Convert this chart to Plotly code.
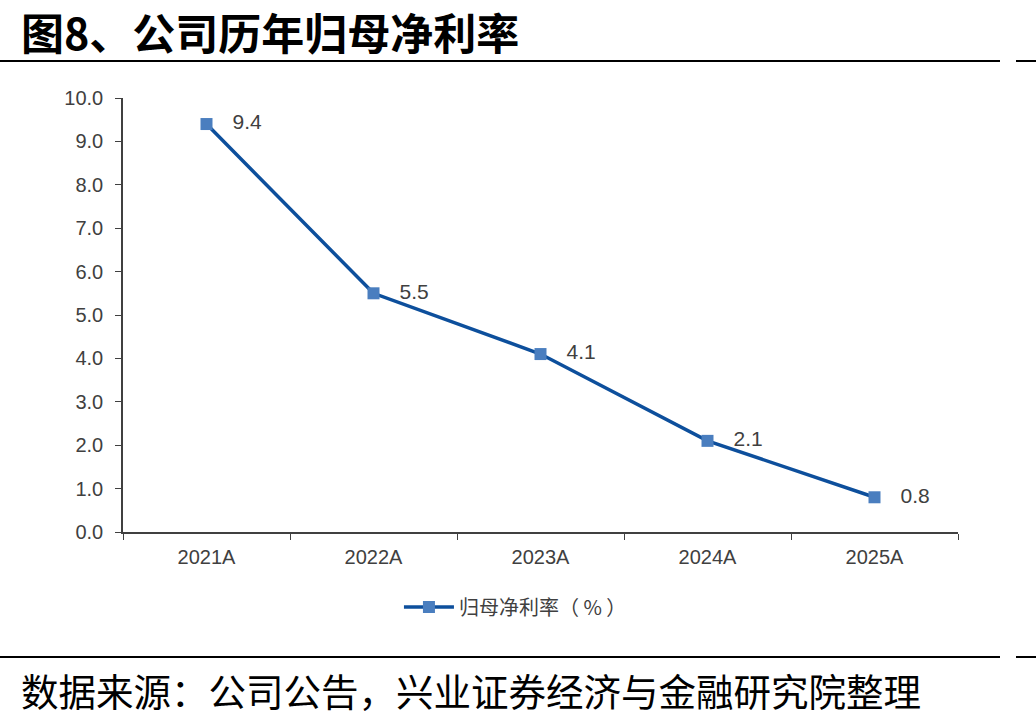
import plotly.graph_objects as go

categories = ["2021A", "2022A", "2023A", "2024A", "2025A"]
net_margin = [9.4, 5.5, 4.1, 2.1, 0.8]
series_name = "归母净利率（ % ）"
y_ticks = [0, 1, 2, 3, 4, 5, 6, 7, 8, 9, 10]
title_text = "图8、公司历年归母净利率"
source_text = "数据来源：公司公告，兴业证券经济与金融研究院整理"

W, H = 1036, 722
L, R, T, B = 123, 78, 98, 190
pw, ph = W - L - R, H - T - B

def px(x):
    return (x - L) / pw

def py(y):
    return (H - B - y) / ph

fig = go.Figure()
fig.add_trace(go.Scatter(
    x=categories, y=net_margin, mode="lines+markers+text",
    name=series_name,
    line=dict(color="#0d4f9c", width=3.5),
    marker=dict(symbol="square", size=12, color="#4a7ebf"),
    text=["   " + f"{v:.1f}" for v in net_margin],
    textposition="middle right",
    textfont=dict(family="Liberation Sans, Arial", size=21, color="#404040"),
    cliponaxis=False,
))

fig.update_layout(
    width=W, height=H,
    margin=dict(l=L, r=R, t=T, b=B),
    paper_bgcolor="white", plot_bgcolor="white",
    showlegend=True,
    legend=dict(orientation="h", x=0.47, xanchor="center", y=py(607), yanchor="middle",
                font=dict(family="Noto Sans CJK SC", size=20, color="#404040"),
                itemwidth=50),
    xaxis=dict(type="category", range=[-0.5, 4.5], showline=True, linecolor="#404040", linewidth=1.5,
               ticks="outside", tickson="boundaries", ticklen=6, tickcolor="#404040",
               ticklabelstandoff=6,
               tickfont=dict(family="Liberation Sans, Arial", size=20, color="#404040"),
               showgrid=False, zeroline=False),
    yaxis=dict(range=[0, 10], tickvals=y_ticks, ticktext=[f"{v:.1f}" for v in y_ticks],
               showline=True, linecolor="#404040", linewidth=1.5,
               ticks="outside", ticklen=6, tickcolor="#404040",
               ticklabelstandoff=8,
               tickfont=dict(family="Liberation Sans, Arial", size=20, color="#404040"),
               showgrid=False, zeroline=False),
)

shapes = []
for yy in (61, 657):
    shapes.append(dict(type="line", xref="paper", yref="paper", x0=px(0), x1=px(1000), y0=py(yy), y1=py(yy),
                       line=dict(color="black", width=2)))
    shapes.append(dict(type="line", xref="paper", yref="paper", x0=px(1016), x1=px(1036), y0=py(yy), y1=py(yy),
                       line=dict(color="black", width=2)))
fig.update_layout(shapes=shapes)

fig.add_annotation(text="<b>" + title_text + "</b>", xref="paper", yref="paper", x=px(20), y=py(31),
                   xanchor="left", yanchor="middle", showarrow=False, borderpad=0,
                   font=dict(family="Noto Sans CJK SC", size=43, color="black"))
fig.add_annotation(text=source_text, xref="paper", yref="paper", x=px(20), y=py(690),
                   xanchor="left", yanchor="middle", showarrow=False, borderpad=0,
                   font=dict(family="Noto Sans CJK SC", size=37.5, color="black"))

fig.write_html("out.html")
